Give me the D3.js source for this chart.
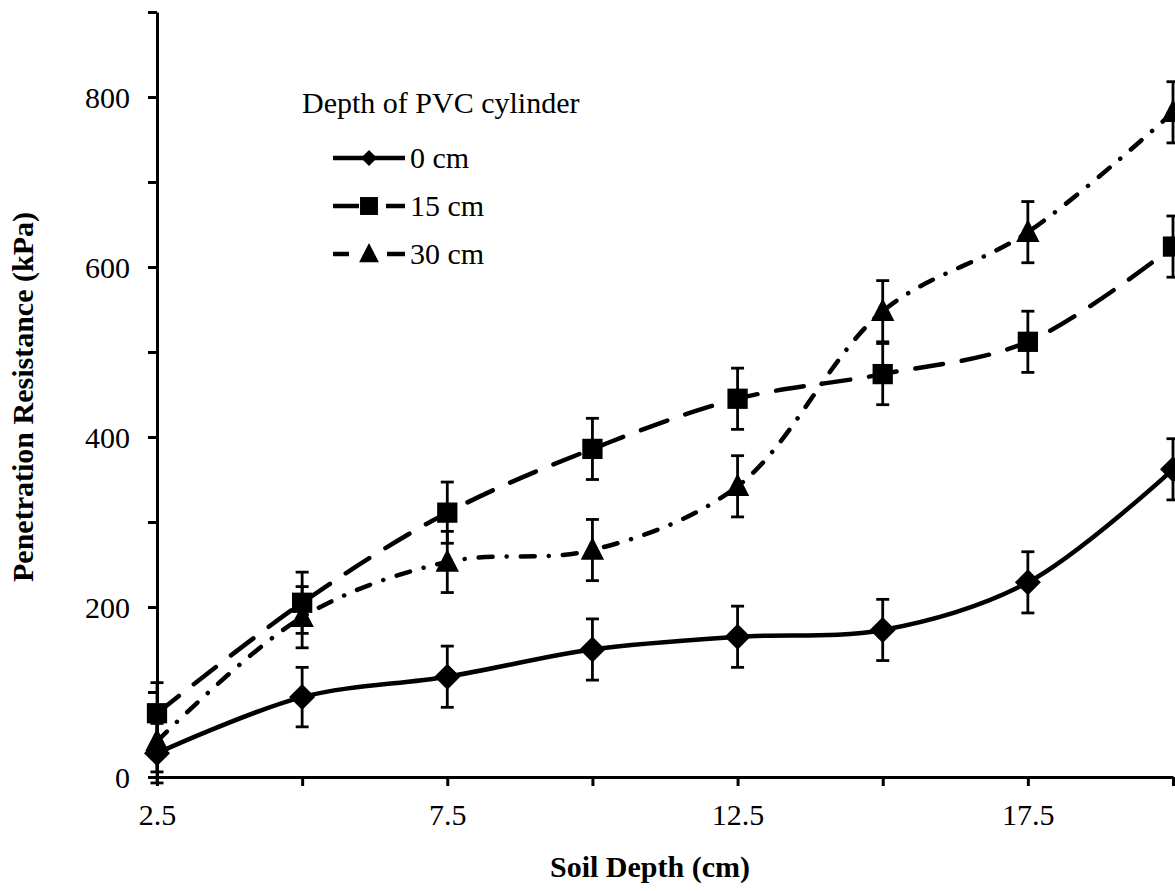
<!DOCTYPE html>
<html>
<head>
<meta charset="utf-8">
<script src="https://cdn.jsdelivr.net/npm/d3@7"></script>
<style>
  body { margin: 0; background: #fff; }
  text { font-family: "Liberation Serif", "Times New Roman", serif; fill: #000; }
</style>
</head>
<body>
<div id="chart-area"></div>
<script>
// soil depth (cm) on x, penetration resistance (kPa) on y
const depths = [2.5, 5, 7.5, 10, 12.5, 15, 17.5, 20];
const cyl0 = [28, 94, 118, 150, 165, 173, 229, 362];
const cyl15 = [75, 205, 311, 386, 445, 474, 512, 624];
const cyl30 = [42, 188, 253, 267, 342, 548, 641, 782];
const err0 = [35, 35, 36, 36, 36, 36, 36, 36];
const err15 = [36, 36, 36, 36, 36, 36, 36, 36];
const err30 = [36, 36, 36, 36, 36, 36, 36, 36];
const seriesNames = ["0 cm", "15 cm", "30 cm"];
const xTicks = [2.5, 5, 7.5, 10, 12.5, 15, 17.5, 20];
const xLabels = [2.5, 7.5, 12.5, 17.5];
const yTicks = [0, 100, 200, 300, 400, 500, 600, 700, 800, 900];
const yLabels = [0, 200, 400, 600, 800];

let margin = { left:157, right:2, top:12, bottom:114 };
let width = 1175 - margin.left - margin.right,
    height = 891 - margin.top - margin.bottom;

let svg = d3.select("#chart-area")
    .append("svg")
        .attr("width", width + margin.left + margin.right)
        .attr("height", height + margin.top + margin.bottom);

let g = svg.append("g")
        .attr("transform", `translate(${margin.left}, ${margin.top})`);

let x = d3.scaleLinear().domain([2.5, 20]).range([0, width]);
let y = d3.scaleLinear().domain([0, 900]).range([height, 0]);

// axes
let xAxisCall = d3.axisBottom(x)
    .tickValues(xTicks)
    .tickSize(9)
    .tickSizeOuter(0)
    .tickFormat(d => xLabels.includes(d) ? d3.format(".1f")(d) : "");

let xAx = g.append("g")
    .attr("class", "x axis")
    .attr("transform", `translate(0, ${height})`)
    .call(xAxisCall);

let yAxisCall = d3.axisLeft(y)
    .tickValues(yTicks)
    .tickSize(9)
    .tickSizeOuter(0)
    .tickFormat(d => yLabels.includes(d) ? d : "");

let yAx = g.append("g")
    .attr("class", "y axis")
    .call(yAxisCall);

[xAx, yAx].forEach(a => {
    a.select(".domain").attr("stroke", "#000").attr("stroke-width", 3);
    a.selectAll(".tick line").attr("stroke", "#000").attr("stroke-width", 3);
    a.selectAll(".tick text")
        .attr("font-family", "Liberation Serif")
        .attr("font-size", "30px")
        .attr("fill", "#000");
});
xAx.selectAll(".tick text").attr("dy", "0").attr("y", 48);
yAx.selectAll(".tick text").attr("x", -27).attr("dy", "0.34em");

// axis titles
g.append("text")
    .attr("x", 650 - margin.left)
    .attr("y", height + 100)
    .attr("font-size", "30px")
    .attr("font-weight", "bold")
    .attr("text-anchor", "middle")
    .text("Soil Depth (cm)");

g.append("text")
    .attr("x", -(397 - margin.top))
    .attr("y", 33 - margin.left)
    .attr("font-size", "30px")
    .attr("font-weight", "bold")
    .attr("text-anchor", "middle")
    .attr("transform", "rotate(-90)")
    .text("Penetration Resistance (kPa)");

// series
let series = [
    { name: seriesNames[0], vals: cyl0, err: err0, dash: null, marker: "diamond", legSize: 8 },
    { name: seriesNames[1], vals: cyl15, err: err15, dash: "28,19", marker: "square", legSize: 11.5 },
    { name: seriesNames[2], vals: cyl30, err: err30, dash: "14,14,0.1,14", marker: "triangle", legSize: 11 }
];

let line = d3.line()
    .x(d => x(d.x))
    .y(d => y(d.v))
    .curve(d3.curveCatmullRom.alpha(0.5));

function markerPath(type, s) {
    if (type === "diamond") return `M0,${-s}L${s},0L0,${s}L${-s},0Z`;
    if (type === "square") return `M${-s*0.78},${-s*0.78}H${s*0.78}V${s*0.78}H${-s*0.78}Z`;
    return `M0,${-s}L${s*0.9},${s*0.75}H${-s*0.9}Z`;
}

series.forEach(s => {
    let pts = depths.map((d, i) => ({ x: d, v: s.vals[i], e: s.err[i] }));

    g.append("path")
        .datum(pts)
        .attr("d", line)
        .attr("fill", "none")
        .attr("stroke", "#000")
        .attr("stroke-width", 4.5)
        .attr("stroke-linecap", "round")
        .attr("stroke-dasharray", s.dash);

    let eb = g.append("g").selectAll("g")
        .data(pts)
        .enter().append("g");
    eb.append("line")
        .attr("x1", d => x(d.x)).attr("x2", d => x(d.x))
        .attr("y1", d => y(d.v + d.e)).attr("y2", d => y(d.v - d.e));
    eb.append("line")
        .attr("x1", d => x(d.x) - 6.5).attr("x2", d => x(d.x) + 6.5)
        .attr("y1", d => y(d.v + d.e)).attr("y2", d => y(d.v + d.e));
    eb.append("line")
        .attr("x1", d => x(d.x) - 6.5).attr("x2", d => x(d.x) + 6.5)
        .attr("y1", d => y(d.v - d.e)).attr("y2", d => y(d.v - d.e));
    eb.selectAll("line").attr("stroke", "#000").attr("stroke-width", 2.8);

    g.append("g").selectAll("path")
        .data(pts)
        .enter().append("path")
            .attr("transform", d => `translate(${x(d.x)}, ${y(d.v)})`)
            .attr("d", markerPath(s.marker, 13))
            .attr("fill", "#000");
});

// legend
let legend = svg.append("g");
legend.append("text")
    .attr("x", 302)
    .attr("y", 113)
    .attr("font-size", "30px")
    .text("Depth of PVC cylinder");

let legSegs = [
    [[333, 405]],
    [[333, 359], [386, 405]],
    [[333, 349], [387, 405]]
];
series.forEach((s, i) => {
    let cy = 158 + i * 48;
    legSegs[i].forEach(seg => {
        legend.append("line")
            .attr("x1", seg[0]).attr("x2", seg[1])
            .attr("y1", cy).attr("y2", cy)
            .attr("stroke", "#000")
            .attr("stroke-width", 4.5);
    });
    legend.append("path")
        .attr("transform", `translate(369, ${cy})`)
        .attr("d", markerPath(s.marker, s.legSize))
        .attr("fill", "#000");
    legend.append("text")
        .attr("x", 410)
        .attr("y", cy + 10)
        .attr("font-size", "30px")
        .text(s.name);
});
</script>
</body>
</html>
